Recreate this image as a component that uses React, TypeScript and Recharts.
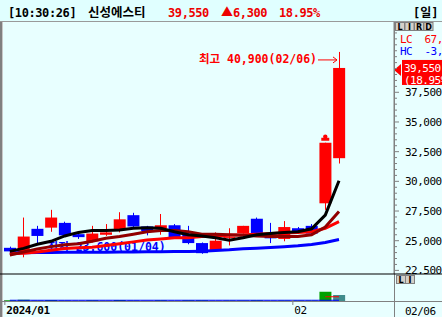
import React from 'react';
import { ComposedChart, Bar, Line, XAxis, YAxis, ReferenceDot, Cell } from 'recharts';

const dates = ['01/03','01/04','01/05','01/08','01/09','01/10','01/11','01/12','01/15','01/16','01/17','01/18','01/19','01/22','01/23','01/24','01/25','01/26','01/29','01/30','01/31','02/01','02/02','02/05','02/06'];
const opens = [24400,24000,26000,26100,26500,25550,24950,25500,25900,27150,26200,26050,26300,25600,24800,24200,25250,25650,26850,25400,25150,26050,26250,28150,31950];
const highs = [24500,26950,26250,27600,26600,25600,26250,26400,27400,27350,26250,27250,26400,26250,24850,25700,26050,26250,26950,26500,26650,26150,26400,33250,40900];
const lows = [24000,23600,24800,25750,25400,25150,24850,25400,25700,26000,25450,25500,25200,24700,23900,24150,24600,25600,25600,24800,24950,25650,25550,27600,31500];
const closes = [24100,25350,25400,26950,25450,25300,25600,25700,26800,26200,25800,26300,25250,24800,23950,25000,25300,26250,25650,25200,26150,25750,25600,33250,39550];
const ma5 = [24100,24350,24700,24950,25400,25700,25850,25850,25900,26050,26100,26050,25750,25500,25400,25250,25050,25250,25500,25600,25700,25750,26000,27150,30050];
const ma10 = [23800,24050,24300,24500,24650,24750,24950,25200,25350,25550,25750,25850,25850,25750,25550,25550,25500,25450,25400,25350,25350,25350,25500,26150,27450];
const ma20 = [23900,23950,24050,24200,24350,24400,24450,24600,24750,24900,25050,25150,25250,25250,25350,25400,25450,25500,25550,25600,25650,25700,25750,26050,26600];
const ma60 = [23980,23990,24000,24010,24020,24020,24030,24030,24040,24050,24060,24070,24080,24090,24120,24170,24230,24320,24370,24420,24490,24570,24680,24850,25100];
const volumes = [3,5,3,4,3,2,3,2,4,3,2,3,2,3,3,2,2,2,3,2,2,2,2,37,24];
const volLine = [3,3,3,3,3,3,3,3,3,3,3,3,3,3,3,3,3,3,3,3,3,3,3,3,3];
const volMarkLine = [null,null,null,null,null,null,null,null,null,null,null,null,null,null,null,null,null,null,null,null,null,null,null,17,17];
const labeledTicks = [22500,25000,27500,30000,32500,35000,37500];
const xTickDates = ['01/03','02/01'];
const xTickLabels = ['2024/01','02'];
const padSlots = ['p1','p2','p3'];

const RED = '#FF0000';
const BLUE = '#0000FF';
const BG = '#E8FFFF';
const MONO = '"DejaVu Sans Mono", "Noto Sans CJK KR", monospace';

const minorTicks: number[] = [];
for (let v = 22500; v <= 43000; v += 500) minorTicks.push(v);

const rows: any[] = dates.map((d, i) => ({
  date: d, open: opens[i], high: highs[i], low: lows[i], close: closes[i],
  ma5: ma5[i], ma10: ma10[i], ma20: ma20[i], ma60: ma60[i],
  vol: volumes[i], volLine: volLine[i], volMark: volMarkLine[i],
}));
padSlots.forEach((p) => rows.push({ date: p }));

const Candle = (props: any) => {
  const { x, y, width, height, payload } = props;
  if (!payload || payload.open == null) return <g />;
  const top = Math.min(y, y + height);
  const h = Math.abs(height);
  const { open, close, high, low } = payload;
  const color = close >= open ? RED : BLUE;
  const k = high > low ? h / (high - low) : 0;
  const py = (v: number) => top + (high - v) * k;
  const bTop = py(Math.max(open, close));
  const bBot = py(Math.min(open, close));
  const cx = Math.floor(x + width / 2) + 0.5;
  return (
    <g>
      <line x1={cx} x2={cx} y1={top} y2={top + h} stroke={color} strokeWidth={1} />
      <rect x={x} y={bTop} width={width} height={Math.max(1, bBot - bTop)} fill={color} />
    </g>
  );
};

const PriceTick = (props: any) => {
  const { x, y, payload } = props;
  const v = payload.value;
  const major = labeledTicks.includes(v);
  return (
    <g>
      <line x1={x} x2={x + (major ? 5 : 3)} y1={y} y2={y} stroke="#808080" />
      {major && (
        <text x={x + 11} y={y} dy="0.36em" fontSize={11} letterSpacing={-0.5} fontFamily={MONO} fill="#000">
          {v.toLocaleString('en-US')}
        </text>
      )}
    </g>
  );
};

const DateTick = (props: any) => {
  const { x, y, payload } = props;
  const idx = xTickDates.indexOf(payload.value);
  if (idx < 0) return <g />;
  const tx = x - 5;
  return (
    <g>
      <line x1={tx} x2={tx} y1={y - 1} y2={y + 4} stroke="#808080" />
      <text x={tx + 1.5} y={y + 13} fontSize={11} letterSpacing={-0.45} fontWeight={idx === 0 ? 'bold' : 'normal'} fontFamily={MONO} fill="#000">
        {xTickLabels[idx]}
      </text>
    </g>
  );
};

const HighMark = (props: any) => {
  const { cx, cy } = props;
  const ex = cx - 22;
  return (
    <g>
      <text x={ex} y={cy + 11} textAnchor="end" fontSize={11.5} fontWeight="bold" fontFamily={MONO} fill={RED}>
        최고 40,900(02/06)
      </text>
      <line x1={ex + 1} x2={cx - 2} y1={cy + 8} y2={cy + 8} stroke={RED} />
      <polyline points={`${cx - 6},${cy + 5} ${cx - 2},${cy + 8} ${cx - 6},${cy + 11}`} fill="none" stroke={RED} />
    </g>
  );
};

const LowMark = (props: any) => {
  const { cx, cy } = props;
  return (
    <g>
      <text x={cx + 24} y={cy - 6} fontSize={11.5} fontWeight="bold" fontFamily={MONO} fill={BLUE}>
        최저 23,600(01/04)
      </text>
    </g>
  );
};

const LimitMark = (props: any) => {
  const { cx, cy } = props;
  return (
    <g fill={RED}>
      <circle cx={cx} cy={cy - 6} r={2.2} />
      <rect x={cx - 4} y={cy - 5} width={8} height={3} />
    </g>
  );
};

const PriceBox = (props: any) => {
  const { cy } = props;
  return (
    <g>
      <polygon points={`394,${cy + 2} 401,${cy - 4} 401,${cy + 8}`} fill={RED} />
      <rect x={402} y={cy - 8} width={40} height={25} fill={RED} />
      <text x={404} y={cy + 4} fontSize={11} letterSpacing={-0.5} fontFamily={MONO} fill="#fff">39,550</text>
      <text x={404} y={cy + 16} fontSize={11} letterSpacing={-0.5} fontFamily={MONO} fill="#fff">(18.95%</text>
    </g>
  );
};

const Btn = ({ x, y, label }: { x: number; y: number; label: string }) => (
  <g>
    <rect x={x} y={y} width={9} height={8} fill="#D4D0C8" stroke="#808080" strokeWidth={1} />
    <text x={x + 4.5} y={y + 7} textAnchor="middle" fontSize={8} fontWeight="bold" fontFamily="DejaVu Sans" fill="#000">{label}</text>
  </g>
);

export default function App() {
  return (
    <div style={{ position: 'fixed', left: 0, top: 0, width: 442, height: 317, overflow: 'hidden', background: BG }}>
      <svg width={442} height={22} style={{ position: 'absolute', left: 0, top: 0 }}>
        <rect x={0} y={0} width={442} height={22} fill="#E0FFFF" />
        <line x1={0} x2={442} y1={21.5} y2={21.5} stroke="#9A9A9A" />
        <text x={8} y={17} fontSize={12} letterSpacing={-0.4} fontWeight="bold" fontFamily={MONO} fill="#000">[10:30:26]</text>
        <text x={88} y={17} fontSize={12.5} fontWeight="bold" fontFamily='"Noto Sans CJK KR"' fill="#000">신성에스티</text>
        <text x={168} y={17} fontSize={12} letterSpacing={-0.4} fontWeight="bold" fontFamily={MONO} fill="#EE0000">39,550</text>
        <text x={221} y={17} fontSize={12} fontWeight="bold" fontFamily={MONO} fill="#EE0000">
          <tspan fontFamily='"Noto Sans CJK KR"'>▲</tspan><tspan letterSpacing={-0.4}>6,300</tspan>
        </text>
        <text x={279} y={17} fontSize={12} letterSpacing={-0.4} fontWeight="bold" fontFamily={MONO} fill="#EE0000">18.95%</text>
        <text x={413} y={17} fontSize={12} fontWeight="bold" fontFamily={MONO} fill="#000">[일]</text>
      </svg>

      <div style={{ position: 'absolute', left: 0, top: 22 }}>
        <ComposedChart width={442} height={252} data={rows} margin={{ top: 0, right: 0, bottom: 0, left: 3 }}>
          <XAxis dataKey="date" hide padding={{ left: 0, right: 7 }} />
          <YAxis
            orientation="right"
            width={48}
            domain={[22195, 43421]}
            allowDataOverflow
            ticks={minorTicks}
            interval={0}
            tickSize={0}
            tickMargin={0}
            tickLine={false}
            axisLine={{ stroke: '#808080' }}
            tick={<PriceTick />}
          />
          <ReferenceDot x="01/04" y={23600} shape={<LowMark />} isFront={false} zIndex={250} />
          <Bar dataKey={(d: any) => (d.low != null ? [d.low, d.high] : null)} barSize={12} shape={<Candle />} isAnimationActive={false} />
          <Line dataKey="ma60" stroke={BLUE} strokeWidth={3} dot={false} isAnimationActive={false} />
          <Line dataKey="ma20" stroke={RED} strokeWidth={3} dot={false} isAnimationActive={false} />
          <Line dataKey="ma10" stroke="#900000" strokeWidth={3} dot={false} isAnimationActive={false} />
          <Line dataKey="ma5" stroke="#000000" strokeWidth={3} dot={false} isAnimationActive={false} />
          <ReferenceDot x="02/06" y={40900} shape={<HighMark />} />
          <ReferenceDot x="02/05" y={33250} shape={<LimitMark />} />
          <ReferenceDot x="02/06" y={39550} shape={<PriceBox />} />
        </ComposedChart>
      </div>

      <div style={{ position: 'absolute', left: 0, top: 274 }}>
        <ComposedChart width={442} height={43} data={rows} margin={{ top: 2, right: 0, bottom: 0, left: 3 }}>
          <XAxis
            dataKey="date"
            padding={{ left: 0, right: 7 }}
            height={16}
            axisLine={false}
            tickLine={false}
            tickSize={0}
            tickMargin={0}
            ticks={xTickDates}
            interval={0}
            tick={<DateTick />}
          />
          <YAxis orientation="right" width={48} domain={[0, 100]} allowDataOverflow tick={false} axisLine={false} tickLine={false} />
          <Bar dataKey="vol" barSize={12} isAnimationActive={false}>
            {rows.map((r, i) => (
              <Cell key={i} fill={i > 0 && r.vol < rows[i - 1].vol ? '#408C8C' : '#00A000'} />
            ))}
          </Bar>
          <Line dataKey="volLine" stroke={BLUE} strokeWidth={1} dot={false} isAnimationActive={false} />
          <Line dataKey="volMark" stroke={RED} strokeWidth={1} dot={false} isAnimationActive={false} />
        </ComposedChart>
      </div>

      <svg width={442} height={317} style={{ position: 'absolute', left: 0, top: 0, pointerEvents: 'none' }}>
        <rect x={0} y={22} width={2} height={295} fill="#808080" />
        <rect x={2} y={22} width={1} height={295} fill="#C8C8C8" />
        <rect x={394} y={22} width={1} height={295} fill="#808080" />
        <rect x={0} y={273.5} width={442} height={1} fill="#000" />
        <rect x={0} y={301} width={442} height={1} fill="#808080" />
        {['L', 'I', 'R', 'D'].map((l, i) => (
          <Btn key={l} x={395.5 + i * 9.5} y={22.5} label={l} />
        ))}
        {['L', 'I'].map((l, i) => (
          <Btn key={l} x={396.5 + i * 9} y={275.5} label={l} />
        ))}
        <text x={400} y={43} fontSize={11} letterSpacing={-0.5} fontFamily={MONO} fill={RED} xmlSpace="preserve">LC  67,000</text>
        <text x={400} y={55} fontSize={11} letterSpacing={-0.5} fontFamily={MONO} fill={BLUE} xmlSpace="preserve">HC  -3,000</text>
        <text x={405} y={315} fontSize={11} letterSpacing={-0.5} fontFamily={MONO} fill="#000">02/06</text>
      </svg>
    </div>
  );
}
